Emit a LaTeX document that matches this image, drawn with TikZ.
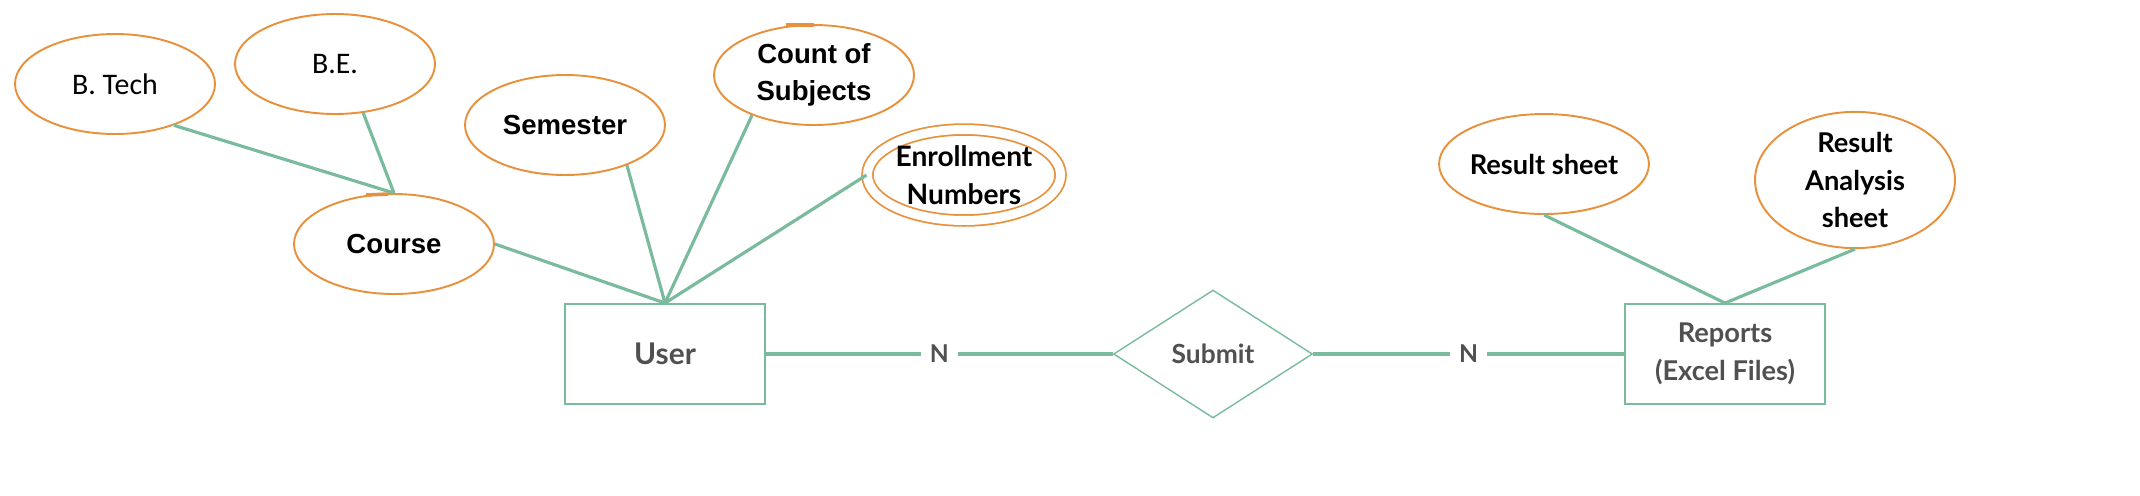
\documentclass[tikz,border=0pt]{standalone}
\usepackage{fontspec}
\setmainfont{Lato}
\newfontfamily\calfont{Carlito}
\newfontfamily\arifont{Liberation Sans}
\usetikzlibrary{shapes.geometric}
\definecolor{linegreen}{RGB}{122,187,158}
\definecolor{attrorange}{RGB}{232,145,60}
\definecolor{entgray}{RGB}{80,80,80}
\begin{document}
\begin{tikzpicture}[x=0.02cm, y=-0.02cm,
  attr/.style={ellipse, draw=attrorange, line width=1.1pt, fill=white, minimum width=4cm, minimum height=2cm, inner sep=0pt, align=center, text=black},
  calattr/.style={font=\calfont\fontsize{17}{20}\selectfont},
  ariattr/.style={font=\arifont\bfseries\fontsize{15.7}{21}\selectfont},
  latoattr/.style={font=\bfseries\fontsize{15.5}{21.6}\selectfont},
  entity/.style={rectangle, draw=linegreen, line width=1.1pt, minimum width=4cm, minimum height=2cm, align=center, text=entgray, font=\bfseries\fontsize{15.5}{21.6}\selectfont},
  rel/.style={diamond, draw=linegreen, line width=0.8pt, aspect=1.55, minimum width=3.98cm, minimum height=2.56cm, inner sep=0pt, text=entgray, font=\bfseries\fontsize{15}{18}\selectfont},
  link/.style={draw=linegreen, line width=1.8pt},
  rlink/.style={draw=linegreen, line width=2.3pt},
  card/.style={fill=white, text=entgray, font=\bfseries\fontsize{14}{16}\selectfont, inner sep=5pt}]
\useasboundingbox (0,0) rectangle (2140,495);
% attributes
\node[attr, calattr] (btech) at (115,84) {B. Tech};
\node[attr, calattr] (be) at (335,64) {B.E.};
\node[attr, ariattr] (course) at (394,244) {Course};
\node[attr, ariattr] (semester) at (565,125) {Semester};
\node[attr, ariattr] (count) at (814,75) {Count of\\Subjects};
\node[attr, latoattr, double=white, double distance=0.18cm, line width=1pt, minimum width=3.8cm, minimum height=1.82cm, font=\bfseries\fontsize{16}{21.6}\selectfont] (enroll) at (964,175) {Enrollment\\Numbers};
\node[attr, latoattr] (rsheet) at (1544,164) {Result sheet};
\node[attr, latoattr, minimum height=2.62cm] (rasheet) at (1855,180) {Result\\Analysis\\sheet};
% entities and relation
\node[entity, font=\bfseries\fontsize{17}{20}\selectfont] (user) at (665,354) {User};
\node[rel] (submit) at (1213,354) {Submit};
\node[entity] (reports) at (1725,354) {Reports\\(Excel Files)};
% connectors
\draw[link] (btech.-35) -- (course.north);
\draw[link] (be.-60) -- (course.north);
\draw[link] (course.east) -- (user.north);
\draw[link] (semester.-33) -- (user.north);
\draw[link] (count.-147) -- (user.north);
\draw[link] (enroll.west) -- (user.north);
\draw[link] (rsheet.south) -- (reports.north);
\draw[link] (rasheet.south) -- (reports.north);
\draw[rlink] (user.east) -- node[card] {N} (submit.west);
\draw[rlink] (submit.east) -- node[card] {N} (reports.west);
% small orange marks
\draw[attrorange, line width=2pt] (366,195) -- (388,194);
\draw[attrorange, line width=2pt] (786,25) -- (814,25);
\end{tikzpicture}
\end{document}
